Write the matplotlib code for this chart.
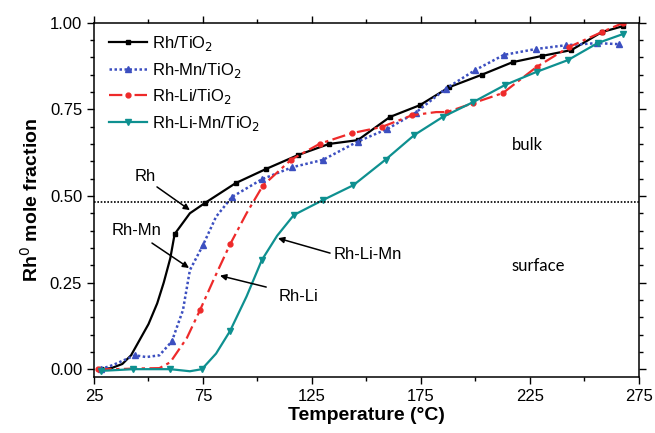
import matplotlib
matplotlib.use("Agg")
import matplotlib.pyplot as plt
from matplotlib.ticker import MultipleLocator, FormatStrFormatter

plt.rcParams['font.family'] = ['Liberation Sans', 'DejaVu Sans']

# Rh/TiO2
rh_x = [28, 33, 38, 42, 46, 50, 54, 57, 60, 62, 69, 76, 90, 104, 118.6, 132.8, 146,
        160.8, 174.5, 188, 203, 217, 230.5, 244, 258, 267.7]
rh_y = [0, 0.003, 0.015, 0.04, 0.085, 0.13, 0.19, 0.25, 0.32, 0.39, 0.45, 0.48, 0.537,
        0.578, 0.618, 0.65, 0.661, 0.728, 0.762, 0.814, 0.85, 0.886, 0.904, 0.921, 0.973,
        0.99]
rh_mk = [0, 9, 11, 12, 13, 14, 15, 16, 17, 18, 19, 20, 21, 22, 23, 24, 25]

# Rh-Mn/TiO2
mn_x = [28, 33.7, 43.8, 49, 55, 60.7, 65.8, 69, 75, 81, 88.3, 102, 116, 130, 146, 159.5,
        172.5, 186.5, 199.8, 213, 227.7, 241.5, 255.7, 266]
mn_y = [0, 0.012, 0.04, 0.035, 0.04, 0.08, 0.17, 0.286, 0.358, 0.44, 0.497, 0.548, 0.583,
        0.604, 0.657, 0.693, 0.74, 0.81, 0.863, 0.907, 0.924, 0.935, 0.941, 0.938]
mn_mk = [0, 2, 5, 8, 10, 11, 12, 13, 14, 15, 16, 17, 18, 19, 20, 21, 22, 23]

# Rh-Li/TiO2
li_x = [27, 35, 45, 55, 60, 67.6, 73.6, 80, 87.4, 95, 102.5, 115.5, 128.7, 143.2, 157,
        171, 182, 187, 199, 212.6, 228, 243, 258, 267.6]
li_y = [0, 0, 0.002, 0.003, 0.02, 0.09, 0.17, 0.26, 0.36, 0.45, 0.53, 0.605, 0.651, 0.681,
        0.699, 0.733, 0.742, 0.742, 0.768, 0.797, 0.872, 0.93, 0.973, 0.999]
li_mk = [0, 6, 8, 10, 11, 12, 13, 14, 15, 17, 18, 19, 20, 21, 22, 23]

# Rh-Li-Mn/TiO2
limn_x = [28, 43, 60, 69, 74.5, 81, 87.4, 95, 102, 109, 116.7, 130, 144, 158.8, 172, 185,
          199, 213.5, 228, 242.4, 256, 267.6]
limn_y = [-0.005, 0, 0, -0.006, 0, 0.045, 0.11, 0.21, 0.315, 0.385, 0.445, 0.488, 0.531,
          0.605, 0.676, 0.728, 0.771, 0.82, 0.858, 0.892, 0.941, 0.967]
limn_mk = [0, 1, 2, 4, 6, 8, 10, 11, 12, 13, 14, 15, 16, 17, 18, 19, 20, 21]

boundary = 0.482
x_ticks = [25, 75, 125, 175, 225, 275]

fig = plt.figure(figsize=(6.55, 4.33), dpi=100)
ax = fig.add_axes([0.1435, 0.129, 0.832, 0.8186])

ax.plot(rh_x, rh_y, color='black', lw=1.6, marker='s', ms=3.5, markevery=rh_mk,
        label='Rh/TiO$_2$')
ax.plot(mn_x, mn_y, color='#3c4fc0', lw=1.8, ls=(0, (1, 1)), marker='^', ms=5,
        markevery=mn_mk, label='Rh-Mn/TiO$_2$')
ax.plot(li_x, li_y, color='#ee2a2a', lw=1.6, ls=(0, (6, 2, 1.5, 2)), marker='o', ms=3.5,
        markevery=li_mk, label='Rh-Li/TiO$_2$')
ax.plot(limn_x, limn_y, color='#0e9090', lw=1.6, marker='v', ms=4.5, markevery=limn_mk,
        label='Rh-Li-Mn/TiO$_2$')

ax.axhline(boundary, color='black', lw=1.2, ls=(0, (1, 1)))

arrow = dict(arrowstyle='-|>', color='black', lw=1.1, mutation_scale=9,
             shrinkA=0, shrinkB=0)
ax.annotate('', xy=(69, 0.459), xytext=(53.9, 0.526), arrowprops=arrow)
ax.annotate('', xy=(68.6, 0.292), xytext=(51.6, 0.364), arrowprops=arrow)
ax.annotate('', xy=(82.8, 0.27), xytext=(104, 0.237), arrowprops=arrow)
ax.annotate('', xy=(109.4, 0.378), xytext=(133.3, 0.335), arrowprops=arrow)
ax.text(48.4, 0.557, 'Rh', fontsize=12, ha='center', va='center')
ax.text(44.3, 0.401, 'Rh-Mn', fontsize=12, ha='center', va='center')
ax.text(118.6, 0.211, 'Rh-Li', fontsize=12, ha='center', va='center')
ax.text(150.7, 0.33, 'Rh-Li-Mn', fontsize=12, ha='center', va='center')
ax.text(224, 0.647, 'bulk', fontsize=12, ha='center', va='center', family='Lato')
ax.text(228.7, 0.297, 'surface', fontsize=12, ha='center', va='center', family='Lato')

ax.set_xlim(25, 275)
ax.set_ylim(-0.023, 1.0)
ax.set_xticks(x_ticks)
ax.xaxis.set_minor_locator(MultipleLocator(25))
ax.yaxis.set_major_locator(MultipleLocator(0.25))
ax.yaxis.set_minor_locator(MultipleLocator(0.05))
ax.yaxis.set_major_formatter(FormatStrFormatter('%.2f'))
ax.tick_params(which='both', direction='out', top=True, right=True, labelsize=12,
               width=1)
ax.tick_params(which='major', length=5)
ax.tick_params(which='minor', length=3)
for s in ax.spines.values():
    s.set_linewidth(1.1)

ax.set_xlabel('Temperature (°C)', fontsize=14, fontweight='bold', labelpad=2)
ax.set_ylabel('Rh$^0$ mole fraction', fontsize=14, fontweight='bold', labelpad=6)

ax.legend(loc='upper left', frameon=False, fontsize=12, handlelength=2.3,
          handletextpad=0.3, labelspacing=0.45, bbox_to_anchor=(0.0, 1.01))

fig.savefig('out.png', dpi=100)
